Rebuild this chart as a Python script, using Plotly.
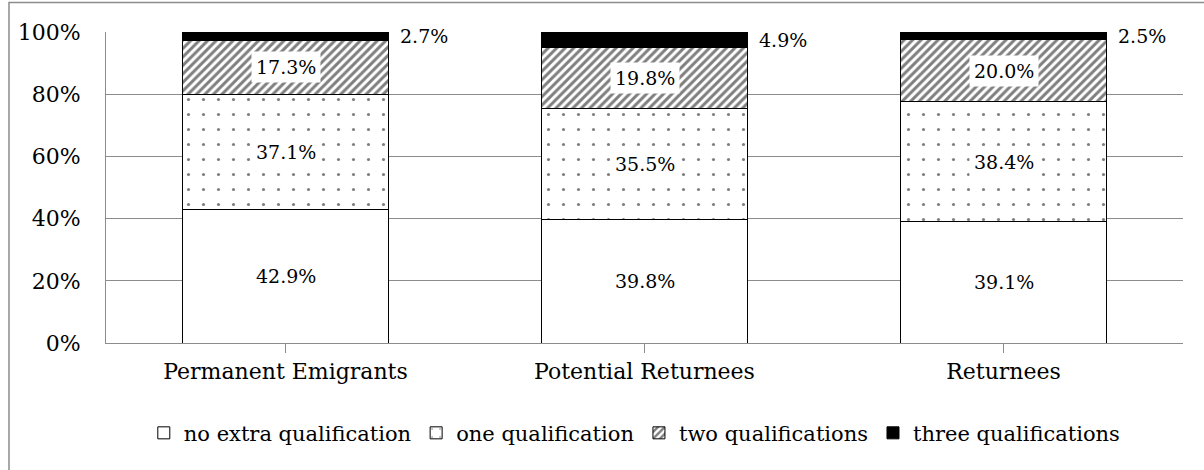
import plotly.graph_objects as go

categories = ["Permanent Emigrants", "Potential Returnees", "Returnees"]
no_extra = [42.9, 39.8, 39.1]
one_qual = [37.1, 35.5, 38.4]
two_qual = [17.3, 19.8, 20.0]
three_qual = [2.7, 4.9, 2.5]
series_names = ["no extra qualification", "one qualification", "two qualifications", "three qualifications"]
y_ticks = [0, 20, 40, 60, 80, 100]
y_tick_labels = ["0%", "20%", "40%", "60%", "80%", "100%"]

FONT = "DejaVu Serif"
GRID = "#8c8c8c"
BAR_W = 0.574
x_pos = list(range(len(categories)))

fig = go.Figure()
patterns = [
    dict(shape=""),
    dict(shape=".", size=15, solidity=0.035, fgcolor="black", bgcolor="white", fillmode="overlay"),
    dict(shape="/", size=6, solidity=0.5, fgcolor="black", bgcolor="white", fillmode="overlay"),
    dict(shape=""),
]
colors = ["white", "white", "white", "black"]
all_series = [no_extra, one_qual, two_qual, three_qual]
for name, vals, pat, col in zip(series_names, all_series, patterns, colors):
    fig.add_trace(go.Bar(
        x=x_pos, y=vals, name=name, width=BAR_W,
        marker=dict(color=col, pattern=pat, line=dict(color="black", width=1)),
    ))

annotations = []
for i in x_pos:
    base = 0
    for k, vals in enumerate(all_series):
        v = vals[i]
        mid = base + v / 2
        label = f"{v:.1f}%"
        if k < 3:
            annotations.append(dict(
                x=i, y=mid, xref="x", yref="y", text=label, showarrow=False,
                font=dict(family=FONT, size=19, color="black"),
                bgcolor="white" if k > 0 else "rgba(0,0,0,0)", borderpad=4,
            ))
        else:
            annotations.append(dict(
                x=i + BAR_W / 2, y=mid, xref="x", yref="y", text=label, showarrow=False,
                xanchor="left", xshift=9,
                font=dict(family=FONT, size=19, color="black"),
            ))
        base += v

fig.update_layout(
    width=1204, height=470,
    margin=dict(l=106, r=21, t=32, b=127),
    barmode="stack",
    bargap=0.426,
    paper_bgcolor="white", plot_bgcolor="white",
    font=dict(family=FONT, color="black"),
    showlegend=True,
    legend=dict(
        orientation="h", x=0.491, xanchor="center", y=-0.29, yanchor="middle",
        font=dict(family=FONT, size=21, color="black"), traceorder="normal",
        itemwidth=30,
    ),
    xaxis=dict(
        tickmode="array", tickvals=x_pos, ticktext=categories,
        range=[-0.5, 2.5], tickson="boundaries", ticks="outside", ticklen=9,
        tickcolor=GRID, showline=True, linecolor=GRID, linewidth=1,
        showgrid=False, tickfont=dict(family=FONT, size=22, color="black"),
    ),
    yaxis=dict(
        range=[0, 100], tickmode="array", tickvals=y_ticks, ticktext=y_tick_labels,
        showgrid=True, gridcolor=GRID, gridwidth=1, showline=True, linecolor=GRID,
        linewidth=1, ticks="", zeroline=False, ticklabelstandoff=20,
        tickfont=dict(family=FONT, size=22, color="black"),
    ),
    annotations=annotations,
    shapes=[dict(
        type="rect", xref="paper", yref="paper",
        x0=(9 - 106) / 1077, x1=(1230 - 106) / 1077,
        y0=(343 - 500) / 311, y1=(343 - 2.5) / 311,
        line=dict(color=GRID, width=1.5), fillcolor="rgba(0,0,0,0)", layer="below",
    )],
)

fig.write_html("out.html")
